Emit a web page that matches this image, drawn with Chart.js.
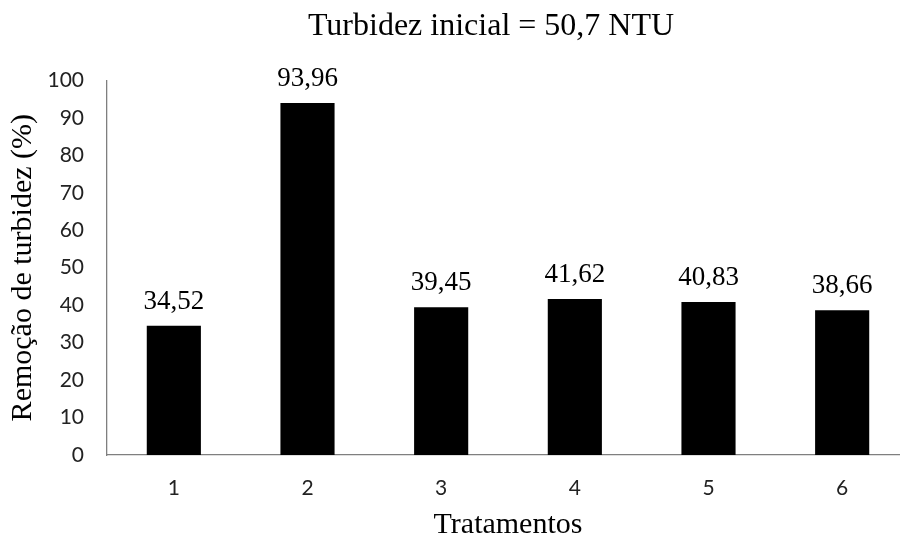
<!DOCTYPE html>
<html>
<head>
<meta charset="utf-8">
<script src="https://cdn.jsdelivr.net/npm/chart.js@4/dist/chart.umd.min.js"></script>
<style>
  html, body { margin: 0; padding: 0; background: #fff; overflow: hidden; width: 900px; height: 537px; }
  #wrap { width: 977px; height: 537px; }
</style>
</head>
<body>
<div id="wrap"><canvas id="c" width="977" height="537"></canvas></div>
<script>
const categories = ["1", "2", "3", "4", "5", "6"];
const remocao = [34.52, 93.96, 39.45, 41.62, 40.83, 38.66];
const yTicks = [0, 10, 20, 30, 40, 50, 60, 70, 80, 90, 100];

const serif = "'Liberation Serif', 'Times New Roman', serif";
const sans = "Lato, 'Liberation Sans', sans-serif";

// Writes each bar's value (decimal comma) just above the bar
const valueLabels = {
  id: 'valueLabels',
  afterDatasetsDraw(chart) {
    const ctx = chart.ctx;
    const meta = chart.getDatasetMeta(0);
    ctx.save();
    ctx.font = "27px " + serif;
    ctx.fillStyle = "#000";
    ctx.textAlign = "center";
    ctx.textBaseline = "alphabetic";
    meta.data.forEach((bar, i) => {
      const v = chart.data.datasets[0].data[i];
      ctx.fillText(v.toFixed(2).replace('.', ','), bar.x, bar.y - 17);
    });
    ctx.restore();
  }
};

new Chart(document.getElementById('c'), {
  type: 'bar',
  data: {
    labels: categories,
    datasets: [{
      data: remocao,
      backgroundColor: '#000',
      borderWidth: 0,
      barPercentage: 1,
      categoryPercentage: 0.405
    }]
  },
  options: {
    responsive: false,
    animation: false,
    devicePixelRatio: 1,
    layout: { padding: { left: 5, right: 0, top: 0, bottom: 0 } },
    plugins: {
      legend: { display: false },
      tooltip: { enabled: false },
      title: {
        display: true,
        text: 'Turbidez inicial = 50,7 NTU',
        color: '#000',
        font: { family: serif, size: 32, weight: 'normal', lineHeight: 1.2 },
        padding: { top: 7, bottom: 35 }
      }
    },
    scales: {
      x: {
        grid: { display: false, drawTicks: false },
        border: { display: true, color: '#7f7f7f', width: 1.3 },
        ticks: { color: '#222', font: { family: sans, size: 21 }, padding: 21 },
        title: {
          display: true,
          text: 'Tratamentos',
          color: '#000',
          font: { family: serif, size: 30, lineHeight: 0.8 },
          padding: { top: 13, bottom: 0 }
        },
        afterFit(scale) { scale.height = 82; }
      },
      y: {
        min: 0,
        max: 100,
        afterBuildTicks(scale) { scale.ticks = yTicks.map(v => ({ value: v })); },
        grid: { display: false, drawTicks: false },
        border: { display: true, color: '#7f7f7f', width: 1.3 },
        ticks: { color: '#222', font: { family: sans, size: 21 }, padding: 23 },
        title: {
          display: true,
          text: 'Remoção de turbidez (%)',
          color: '#000',
          font: { family: serif, size: 30, lineHeight: 1.2 },
          padding: { top: 0, bottom: 8 }
        },
        afterFit(scale) { scale.width = 102; }
      },
      // empty spacer on the right edge of the plot
      spacer: {
        type: 'linear',
        position: 'right',
        display: true,
        grid: { display: false, drawTicks: false },
        border: { display: false },
        ticks: { display: false },
        afterFit(scale) { scale.width = 68; }
      }
    }
  },
  plugins: [valueLabels]
});
</script>
</body>
</html>
